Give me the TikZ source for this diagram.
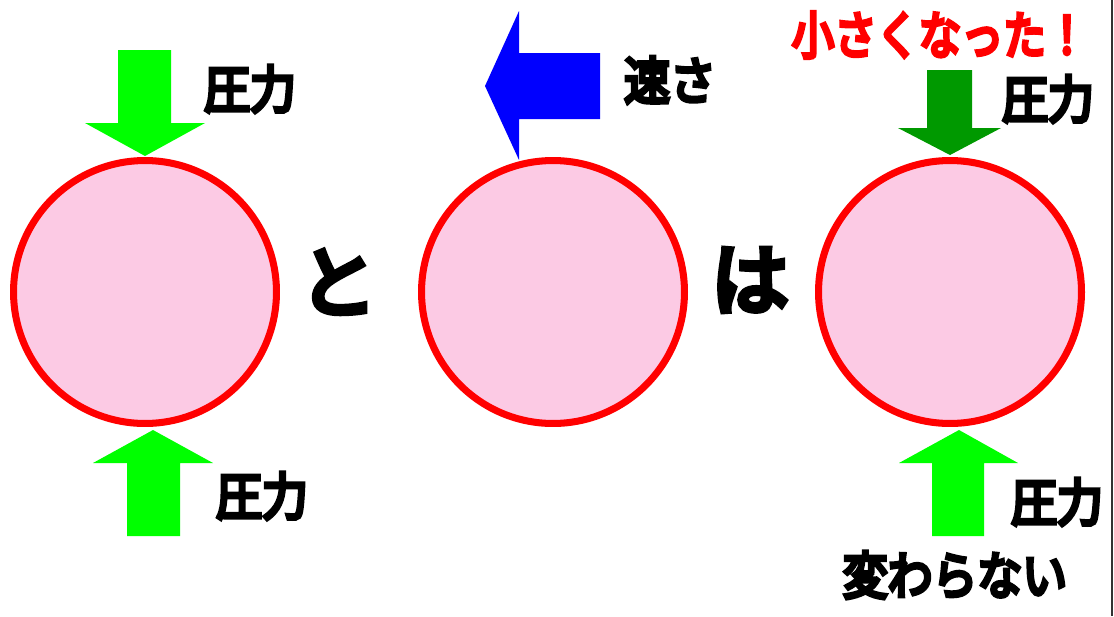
\documentclass[tikz,border=0pt]{standalone}
\usepackage{fontspec}
\newfontfamily\jpfont{Noto Sans CJK JP}[FakeBold=8]
\usetikzlibrary{positioning}
\definecolor{ballpink}{RGB}{252,202,228}
\definecolor{presslight}{RGB}{0,255,0}
\definecolor{pressdark}{RGB}{0,153,0}

\begin{document}
\begin{tikzpicture}[x = 0.02cm, y = -0.02cm,
    ball/.style = {circle, draw = red, fill = ballpink, line width = 4pt, minimum size = 5.26cm, inner sep = 0pt},
    word/.style = {inner sep = 0pt, font = \jpfont\fontsize{29}{29}\selectfont},
    bigword/.style = {inner sep = 0pt, font = \jpfont\fontsize{44}{44}\selectfont}]
    \useasboundingbox (0,0) rectangle (1114,616);

    % the three balls
    \node[ball] (ballL) at (145,292) {};
    \node[ball] (ballM) at (553,292) {};
    \node[ball] (ballR) at (950,292) {};

    \node[bigword] (to) at (338,282) {と};
    \node[bigword] (wa) at (750,280) {は};

    % left ball
    \begin{scope}
        \fill[presslight] (118,50) -- (171,50) -- (171,123) -- (205,123) -- (145,156) -- (85,123) -- (118,123) -- cycle;
        \fill[presslight] (127,536) -- (180,536) -- (180,463) -- (213,463) -- (153,430) -- (93,463) -- (127,463) -- cycle;
        \node[word] (pressTL) at (250,89) {\scalebox{0.9}[1]{圧力}};
        \node[word] (pressBL) at (262,496) {\scalebox{0.9}[1]{圧力}};
    \end{scope}

    % middle ball
    \begin{scope}
        \fill[blue] (600,53) -- (600,119) -- (519,119) -- (519,160) -- (485,86) -- (519,11) -- (519,53) -- cycle;
        \node[word] (speed) at (670,80) {\scalebox{0.9}[1]{速さ}};
    \end{scope}

    % right ball
    \begin{scope}
        \fill[pressdark] (927,70) -- (972,70) -- (972,128) -- (1001,128) -- (950,155) -- (898,128) -- (927,128) -- cycle;
        \fill[presslight] (932,536) -- (984,536) -- (984,463) -- (1018,463) -- (959,430) -- (899,463) -- (932,463) -- cycle;
        \node[word, text = red] (smaller) at (940,35) {\scalebox{0.83}[1]{小さくなった！}};
        \node[word] (pressTR) at (1048,99) {\scalebox{0.9}[1]{圧力}};
        \node[word] (pressBR) at (1057,502) {\scalebox{0.9}[1]{圧力}};
        \node[word] (same) at (955,575) {\scalebox{0.88}[1]{変わらない}};
    \end{scope}

    \draw[line width = 0.8pt, black!80] (1112,0) -- (1112,616);
\end{tikzpicture}
\end{document}
